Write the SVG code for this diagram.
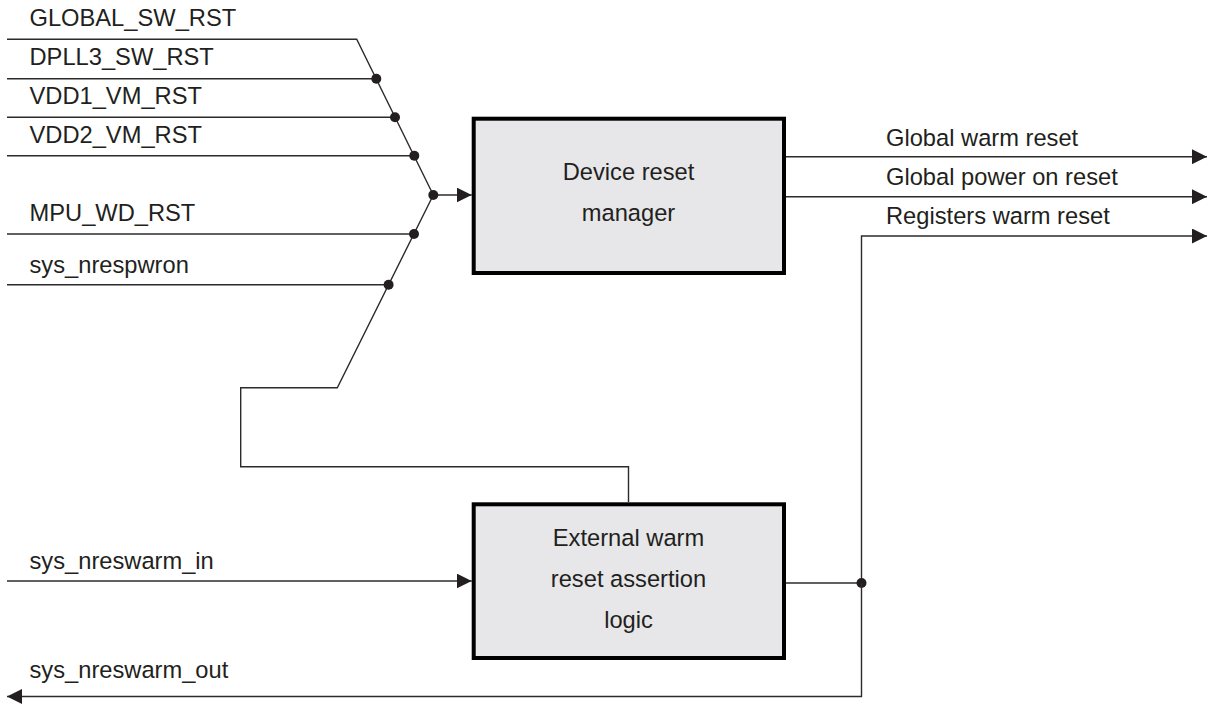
<svg xmlns="http://www.w3.org/2000/svg" width="1207" height="704" viewBox="0 0 1207 704">
<style>
.w{fill:none;stroke:#2b2b2b;stroke-width:1.4}
.dot{fill:#231f20}
.box{fill:#e7e7e9;stroke:#000;stroke-width:4}
text{font-family:"Liberation Sans",Arial,sans-serif;font-size:23.7px;fill:#231f20}
.c{text-anchor:middle}
</style>
<defs>
<marker id="ah" markerUnits="userSpaceOnUse" markerWidth="16" markerHeight="15" refX="15" refY="7.5" orient="auto">
<path d="M0,0 L15,7.5 L0,15 z" fill="#231f20"/>
</marker>
</defs>
<rect width="1207" height="704" fill="#fff"/>
<g id="connectors">
<polyline class="w" points="7,39.3 356.7,39.3 433.3,195"/>
<line class="w" x1="7" y1="78.7" x2="376.3" y2="78.7"/>
<line class="w" x1="7" y1="117.3" x2="395" y2="117.3"/>
<line class="w" x1="7" y1="155.7" x2="414.3" y2="155.7"/>
<line class="w" x1="7" y1="234" x2="414" y2="234"/>
<line class="w" x1="7" y1="284.7" x2="388.6" y2="284.7"/>
<polyline class="w" points="628.5,502 628.5,466.7 240.7,466.7 240.7,387.7 337.3,387.7 433.3,195"/>
<line class="w" x1="433.3" y1="195" x2="471.7" y2="195" marker-end="url(#ah)"/>
<circle class="dot" cx="376.3" cy="78.7" r="5"/>
<circle class="dot" cx="395" cy="117.3" r="5"/>
<circle class="dot" cx="414.3" cy="155.7" r="5"/>
<circle class="dot" cx="433.3" cy="195" r="5"/>
<circle class="dot" cx="414" cy="234" r="5"/>
<circle class="dot" cx="388.6" cy="284.7" r="5"/>
<line class="w" x1="786" y1="156.7" x2="1207" y2="156.7" marker-end="url(#ah)"/>
<line class="w" x1="786" y1="196.7" x2="1207" y2="196.7" marker-end="url(#ah)"/>
<polyline class="w" points="861.5,583 861.5,236 1207,236" marker-end="url(#ah)"/>
<line class="w" x1="7" y1="581" x2="471.7" y2="581" marker-end="url(#ah)"/>
<line class="w" x1="786" y1="583" x2="861.5" y2="583"/>
<circle class="dot" cx="861.5" cy="583" r="5"/>
<polyline class="w" points="861.5,583 861.5,696.5 7,696.5" marker-end="url(#ah)"/>
<text x="29.5" y="26">GLOBAL_SW_RST</text>
<text x="29.5" y="65">DPLL3_SW_RST</text>
<text x="29.5" y="104">VDD1_VM_RST</text>
<text x="29.5" y="142.7">VDD2_VM_RST</text>
<text x="29.5" y="221.3">MPU_WD_RST</text>
<text x="29.5" y="272.7">sys_nrespwron</text>
<text x="29.5" y="569">sys_nreswarm_in</text>
<text x="29.5" y="678">sys_nreswarm_out</text>
<text x="886" y="146">Global warm reset</text>
<text x="886" y="185">Global power on reset</text>
<text x="886" y="224">Registers warm reset</text>
</g>
<g id="device-reset-manager">
<rect class="box" x="473.7" y="118.7" width="310.3" height="154.3"/>
<text class="c" x="628.5" y="180">Device reset</text>
<text class="c" x="628.5" y="221">manager</text>
</g>
<g id="external-warm-reset-logic">
<rect class="box" x="473.7" y="504.3" width="310.3" height="153.7"/>
<text class="c" x="628.5" y="546">External warm</text>
<text class="c" x="628.5" y="587">reset assertion</text>
<text class="c" x="628.5" y="628">logic</text>
</g>
</svg>
